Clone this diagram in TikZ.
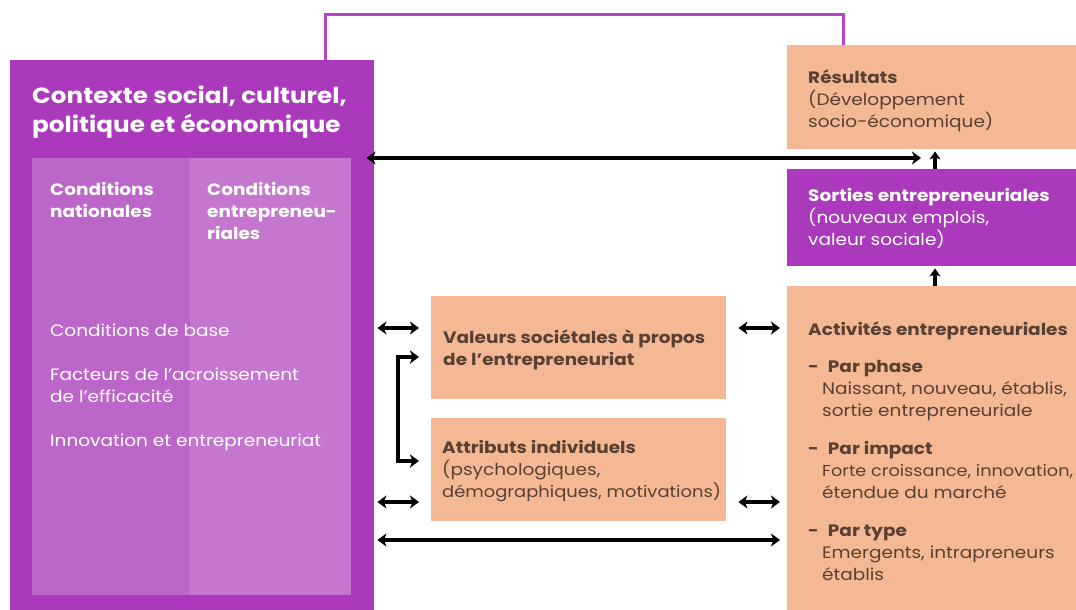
\documentclass[tikz,border=0pt]{standalone}
\usepackage{fontspec}
\setmainfont{Poppins}[FakeStretch=1.12]
\usepackage{tikz}
\usetikzlibrary{calc}
\usetikzlibrary{arrows.meta}
\usetikzlibrary{positioning}
\definecolor{plum}{RGB}{170, 57, 187}
\definecolor{orchid}{RGB}{178, 70, 196}
\definecolor{lilacA}{RGB}{187, 102, 200}
\definecolor{lilacB}{RGB}{197, 118, 206}
\definecolor{peach}{RGB}{244, 185, 148}
\definecolor{cocoa}{RGB}{88, 64, 50}

\tikzset{
  panel/.style={draw=none, anchor=north west, inner sep=0pt},
  bodytxt/.style={anchor=north west, inner sep=0pt, align=left,
                  font=\fontsize{16.5}{22}\selectfont},
  biarrow/.style={{Stealth[length=9pt,width=13pt,inset=2.5pt]}-{Stealth[length=9pt,width=13pt,inset=2.5pt]}, line width=3.5pt},
  uparrow/.style={-{Stealth[length=8pt,width=11pt,inset=2pt]}, line width=3.5pt},
  fbline/.style={draw=orchid, line width=3pt}
}

\begin{document}
\begin{tikzpicture}[x=1pt, y=-1pt]
  \useasboundingbox (0,0) rectangle (1076,610);
  % Feedback loop corners
  \coordinate (fbl) at (325,15);
  \coordinate (fbr) at (843,15);
  % Context block
  \node[panel, fill=plum,   minimum width=364pt, minimum height=550pt] (ctx)  at (10,60)  {};
  \node[panel, fill=lilacA, minimum width=158pt, minimum height=437pt] (natl) at (32,158) {};
  \node[panel, fill=lilacB, minimum width=161pt, minimum height=437pt] (entr) at (190,158) {};
  \node[bodytxt, text=white, font=\fontsize{22}{29}\selectfont\bfseries] (ctxtitle) at (32,86)
       {Contexte social, culturel,\\politique et économique};
  \node[bodytxt, text=white, font=\fontsize{16.5}{22}\selectfont\bfseries] (natltxt) at (50,182)
       {Conditions\\nationales};
  \node[bodytxt, text=white, font=\fontsize{16.5}{22}\selectfont\bfseries] (entrtxt) at (207,182)
       {Conditions\\entrepreneu-\\riales};
  \node[bodytxt, text=white] (condtxt) at (50,324)
       {Conditions de base\\[22pt]Facteurs de l’acroissement\\de l’efficacité\\[22pt]Innovation et entrepreneuriat};
  % Middle boxes
  \node[panel, fill=peach, minimum width=295pt, minimum height=103pt] (val) at (431,296) {};
  \node[panel, fill=peach, minimum width=295pt, minimum height=103pt] (att) at (431,418) {};
  \node[bodytxt, text=cocoa, font=\fontsize{16.5}{22}\selectfont\bfseries] (valtxt) at (443,330)
       {Valeurs sociétales à propos\\de l’entrepreneuriat};
  \node[bodytxt, text=cocoa] (atttxt) at (442,440)
       {\textbf{Attributs individuels}\\(psychologiques,\\{\fontsize{16}{22}\selectfont démographiques, motivations)}};
  % Right column
  \node[panel, fill=peach, minimum width=289pt, minimum height=104pt] (res) at (787,45)  {};
  \node[panel, fill=plum,  minimum width=289pt, minimum height=97pt]  (sor) at (787,169) {};
  \node[panel, fill=peach, minimum width=289pt, minimum height=324pt] (act) at (787,286) {};
  \node[bodytxt, text=cocoa] (restxt) at (808,70)
       {\textbf{Résultats}\\(Développement\\socio-économique)};
  \node[bodytxt, text=white] (sortxt) at (808,188)
       {\textbf{Sorties entrepreneuriales}\\(nouveaux emplois,\\valeur sociale)};
  \node[bodytxt, text=cocoa] (acttxt) at (808,322)
       {\textbf{Activités entrepreneuriales}\\[15pt]
        \textbf{-\hspace{9pt}Par phase}\\\hspace*{14pt}Naissant, nouveau, établis,\\\hspace*{14pt}sortie entrepreneuriale\\[16pt]
        \textbf{-\hspace{9pt}Par impact}\\\hspace*{14pt}{\fontsize{15.8}{22}\selectfont Forte croissance, innovation,}\\\hspace*{14pt}étendue du marché\\[16pt]
        \textbf{-\hspace{9pt}Par type}\\\hspace*{14pt}Emergents, intrapreneurs\\\hspace*{14pt}établis};
  % Feedback line
  \draw[fbline] (ctx.north -| fbl) |- (fbr) -- (res.north -| fbr);
  % Connectors
  \coordinate (r0) at (0,158);
  \coordinate (r1) at (0,328);
  \coordinate (r2) at (0,502);
  \coordinate (r3) at (0,540);
  \coordinate (b1) at (0,357);
  \coordinate (b2) at (0,461);
  \coordinate (resin) at (921,158);
  \coordinate (upx) at (935,0);
  \draw[biarrow] ([xshift=-8pt]ctx.east |- r0) -- (resin);
  \draw[uparrow] (sor.north -| upx) -- ([yshift=-2pt]res.south -| upx);
  \draw[uparrow] (act.north -| upx) -- ([yshift=-2pt]sor.south -| upx);
  \draw[biarrow] ([xshift=3pt]ctx.east |- r1) -- ([xshift=-12pt]val.west |- r1);
  \draw[biarrow] ([xshift=3pt]ctx.east |- r2) -- ([xshift=-12pt]att.west |- r2);
  \draw[biarrow] ([xshift=12pt]val.east |- r1) -- ([xshift=-7pt]act.west |- r1);
  \draw[biarrow] ([xshift=12pt]att.east |- r2) -- ([xshift=-7pt]act.west |- r2);
  \draw[biarrow] ([xshift=3pt]ctx.east |- r3) -- ([xshift=-7pt]act.west |- r3);
  \draw[biarrow] ([xshift=-12pt]val.west |- b1) -- ++(-21,0) |- ([xshift=-12pt]att.west |- b2);
\end{tikzpicture}
\end{document}
